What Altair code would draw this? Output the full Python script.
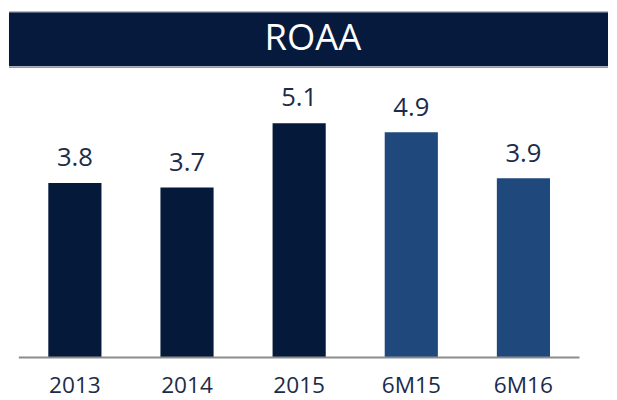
import altair as alt
import pandas as pd

categories = ["2013", "2014", "2015", "6M15", "6M16"]
values = [3.8, 3.7, 5.1, 4.9, 3.9]
groups = ["Annual", "Annual", "Annual", "Half-year", "Half-year"]
title_text = ["ROAA"]

bar_colors = ["#05193B", "#1F487C"]
text_color = "#1c2b4a"
banner_color = "#061A3D"
FONT = "Open Sans"

df = pd.DataFrame({"period": categories, "roaa": values, "group": groups})
tdf = pd.DataFrame({"t": title_text})

W, H = 609, 392
ZERO_Y = 352  # pixel row of the zero baseline inside the plot
UNIT = 46.7   # pixels per percentage point

x = alt.X(
    "period:N",
    sort=categories,
    scale=alt.Scale(range=[10, 580], paddingInner=0.526, paddingOuter=0.263),
    axis=alt.Axis(
        title=None, ticks=False, domain=False, grid=False, labelAngle=0,
        labelFont=FONT, labelFontSize=23, labelColor=text_color,
        labelPadding=18, labelBaseline="top", offset=-(H - ZERO_Y),
    ),
)
y = alt.Y(
    "roaa:Q",
    scale=alt.Scale(domain=[-(H - ZERO_Y) / UNIT, ZERO_Y / UNIT], nice=False),
    axis=None,
)

base = alt.Chart(df)

bars = base.mark_bar().encode(
    x=x,
    y=y,
    color=alt.Color("group:N", scale=alt.Scale(domain=["Annual", "Half-year"], range=bar_colors), legend=None),
)

labels = base.mark_text(
    font=FONT, fontSize=26, color=text_color, baseline="alphabetic", dy=-17
).encode(x=x, y=y, text=alt.Text("roaa:Q", format=".1f"))

baseline = alt.Chart(tdf).mark_rule(color="#8c8c8c", strokeWidth=2).encode(
    x=alt.value(10), x2=alt.value(580), y=alt.value(ZERO_Y)
)

banner = alt.Chart(tdf).mark_rect(color=banner_color).encode(
    x=alt.value(0), x2=alt.value(W), y=alt.value(1), y2=alt.value(56)
)
banner_top = alt.Chart(tdf).mark_rule(color="#a3abb9", strokeWidth=1).encode(
    x=alt.value(0), x2=alt.value(W), y=alt.value(0.5)
)
banner_bottom = alt.Chart(tdf).mark_rule(color="#8f99ab", strokeWidth=1.5).encode(
    x=alt.value(0), x2=alt.value(W), y=alt.value(57)
)
title = alt.Chart(tdf).mark_text(
    font=FONT, fontSize=37, color="white", baseline="middle", align="center"
).encode(text="t:N", x=alt.value(309), y=alt.value(28))

chart = (
    alt.layer(bars, baseline, labels, banner, banner_top, banner_bottom, title)
    .properties(width=W, height=H, padding=0)
    .configure_view(stroke=None)
)

chart.save("out.html", embed_options={"renderer": "svg", "actions": False})
